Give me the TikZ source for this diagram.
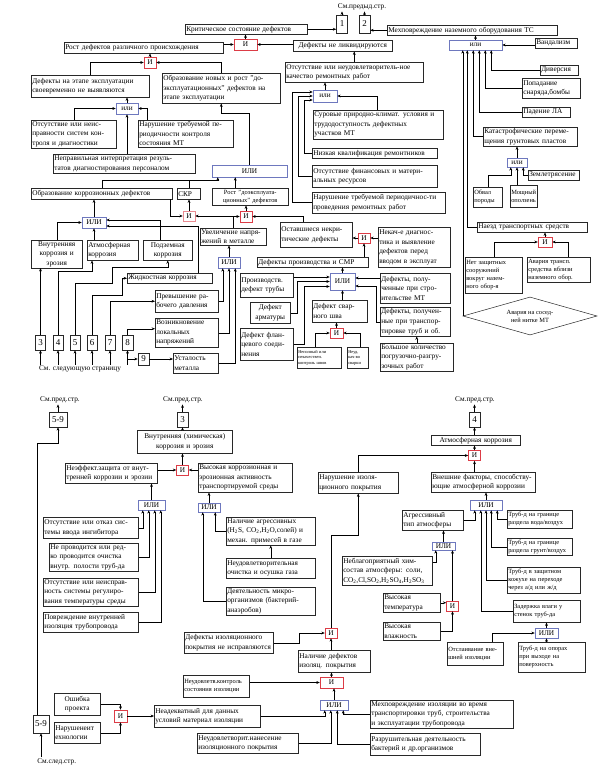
\documentclass[tikz,border=0pt]{standalone}
\usepackage{fontspec}
\setmainfont{Liberation Serif}
\usepackage{tikz}
\usetikzlibrary{arrows.meta,shapes.geometric,calc}

\newcommand{\txtmain}{\fontsize{7.3}{9.6}\selectfont}
\newcommand{\txtsmall}{\fontsize{6.4}{8}\selectfont}
\newcommand{\txttiny}{\fontsize{4.4}{5.4}\selectfont}
\definecolor{andred}{RGB}{220,60,70}
\definecolor{orblue}{RGB}{110,120,190}
\definecolor{inkgray}{RGB}{40,40,40}

\begin{document}
\begin{tikzpicture}[x=1pt, y=-1pt, line width=0.5pt, >={Stealth[length=3.4pt,width=2.8pt]},
    block/.style={rectangle, draw=inkgray, anchor=north west, align=left, inner xsep=1pt, inner ysep=1pt, text width=#1, font=\txtmain},
    andgate/.style={rectangle, draw=andred, fill=white, minimum width=12pt, minimum height=10pt, inner sep=0pt, font=\txtmain},
    orgate/.style={rectangle, draw=orblue, fill=white, minimum height=10pt, inner sep=0pt, font=\txtmain},
    numbox/.style={rectangle, draw=inkgray, inner sep=0pt, minimum width=10pt, minimum height=15pt, font=\fontsize{9}{9}\selectfont},
    note/.style={inner sep=1pt, font=\txtmain}]

\useasboundingbox[fill=white] (0,0) rectangle (604,775);

% ---------------- upper page: top events
\node[note] (prevt) at (362,7) {См.предыд.стр.};
\node[numbox, minimum width=11pt, minimum height=18pt] (n1) at (342,24) {1};
\node[numbox, minimum width=11pt, minimum height=18pt] (n2) at (364.5,24) {2};
\node[block=120pt, minimum height=10pt] (crit) at (185,24) {Критическое состояние дефектов};
\node[block=168pt, minimum height=10pt] (mech) at (387,25) {Мехповреждение наземного оборудования ТС};
\node[andgate, minimum width=23pt, minimum height=11pt] (g1) at (245.5,44.5) {И};
\node[block=157pt, minimum height=11pt] (rost) at (64,42) {Рост дефектов различного происхождения};
\node[block=97pt, minimum height=11pt, align=center] (neliq) at (293,40) {Дефекты не ликвидируются};
\draw[->] (n1.north) -- (n1.north |- prevt.south);
\draw[->] (n2.north) -- (n2.north |- prevt.south);
\draw[->] (crit.east) -- (crit.east -| n1.west);
\draw[->] (mech.west) -- (mech.west -| n2.east);
\draw[->] (g1.north) -- (g1.north |- crit.south);
\draw[->] (rost.east |- g1.west) -- (g1.west);
\draw[->] (neliq.west |- g1.east) -- (g1.east);

% defects growth branch
\node[andgate, minimum height=11pt] (g2) at (150,62.5) {И};
\node[block=116pt, minimum height=22pt] (defexp) at (31,75) {Дефекты на этапе эксплуатации\\своевременно не выявляются};
\node[block=116pt, minimum height=30pt] (obraz) at (162,73) {Образование новых и рост "до-\\эксплуатационных" дефектов на\\этапе  эксплуатации};
\node[orgate, minimum width=22pt, minimum height=11pt] (g3) at (127,108.5) {или};
\node[block=83pt, minimum height=27pt] (otsk) at (31,120) {Отсутствие или неис-\\правности систем кон-\\троля и диагностики};
\node[block=93pt, minimum height=27pt] (narper) at (138,120) {Нарушение требуемой пе-\\риодичности контроля\\состояния МТ};
\node[block=140pt, minimum height=19pt] (neprav) at (53,154) {Неправильная интерпретация резуль-\\татов диагностирования персоналом};
\draw[->] (g2.north) -- (g2.north |- rost.south);
\draw[->] (defexp.north) |- (g2.west);
\draw[->] (obraz.north) |- (g2.east);
\draw[->] (g3.north) -- (g3.north |- defexp.south);
\draw[->] (otsk.north) |- (g3.west);
\draw[->] ([xshift=9pt]narper.north west) |- (g3.east);
\draw[->] (g3.south |- neprav.north) -- (g3.south);

% corrosion and stress
\node[orgate, minimum width=75pt, minimum height=12pt] (ili1) at (249.5,171) {ИЛИ};
\node[block=139pt, minimum height=11pt] (obrk) at (31,188) {Образование коррозионных дефектов};
\node[block=21pt, minimum height=11pt] (skr) at (177,188) {СКР};
\node[block=74pt, minimum height=17pt, align=center, font=\txtsmall] (rostd) at (212,188) {Рост "доэксплуата-\\ционных" дефектов};
\node[andgate, draw=andred!60] (gand1) at (189,216) {И};
\node[andgate, minimum height=11pt] (gand2) at (246,216.5) {И};
\node[block=64pt, minimum height=17pt] (uvel) at (200,228) {Увеличение напря-\\жений в металле};
\node[block=70pt, minimum height=25pt] (ostav) at (280,222) {Оставшиеся некри-\\тические дефекты};
\draw[->] (ili1.north) |- ([yshift=-10pt]obraz.south) -- (obraz.south);
\draw[->] (obrk.north) -- ++(0,-8) -| ([xshift=6pt]ili1.south west);
\draw (skr.north) -- ++(0,-8);
\draw[->] ([xshift=-15pt]rostd.north) -- ([xshift=-15pt]rostd.north |- ili1.south);
\draw[->] ([xshift=-2pt]obrk.south east) |- (gand1.west);
\draw[->] (gand1.north) -- (gand1.north |- skr.south);
\draw[->] (gand2.north) -- (gand2.north |- rostd.south);
\draw[->] (uvel.north) |- (gand1.east);
\draw[->] (uvel.north) |- (gand2.west);
\draw[->] ([xshift=23pt]ostav.north west) |- (gand2.east);

% repair branch
\node[block=136pt, minimum height=20pt] (rep) at (285,62) {Отсутствие или неудовлетворитель-ное\\качество ремонтных работ};
\node[orgate, minimum width=24pt, minimum height=12pt] (g4) at (325,96) {или};
\node[block=128pt, minimum height=29pt] (surov) at (313,110) {Суровые природно-климат. условия и\\трудодоступность дефектных\\участков МТ};
\node[block=123pt, minimum height=10pt] (nizk) at (312,148) {Низкая квалификация ремонтников};
\node[block=123pt, minimum height=22pt] (otsf) at (312,165) {Отсутствие финансовых и матери-\\альных ресурсов};
\node[block=131pt, minimum height=21pt] (narrep) at (312,192) {Нарушение требуемой периодичнос-ти\\проведения ремонтных работ};
\draw[->] (rep.north) -- (rep.north |- neliq.south);
\draw[->] (g4.north) -- (g4.north |- rep.south);
\draw[->] ([xshift=64pt]surov.north west) |- (g4.east);
\draw[->] (nizk.west) -- ++(-8,0) |- (g4.west |- 0,100);
\draw[->] (otsf.west) -- ++(-14,0) |- (g4.west |- 0,96);
\draw[->] (narrep.west) -- ++(-20,0) |- (g4.west |- 0,92);

% ground equipment branch
\node[orgate, minimum width=53pt] (g5) at (475.5,45) {или};
\node[block=40pt, minimum height=10pt] (vand) at (535,38) {Вандализм};
\node[block=36pt, minimum height=10pt] (divers) at (540,65) {Диверсия};
\node[block=56pt, minimum height=20pt] (popad) at (522,78) {Попадание\\снаряда,бомбы};
\node[block=46pt, minimum height=10pt] (paden) at (522,107) {Падение ЛА};
\node[block=92pt, minimum height=19pt] (katas) at (483,127) {Катастрофические переме-\\щения грунтовых пластов};
\node[orgate, minimum width=20pt, minimum height=9pt] (g6) at (517,162.5) {или};
\node[block=49pt, minimum height=10pt] (zeml) at (528,170) {Землетрясение};
\node[block=27pt, minimum height=20pt, font=\txtsmall] (obval) at (473,187) {Обвал\\породы};
\node[block=25pt, minimum height=22pt, font=\txtsmall] (moshch) at (510,185) {Мощный\\оползень};
\node[block=108pt, minimum height=10pt] (naezd) at (477,222) {Наезд транспортных средств};
\node[andgate, minimum width=14pt] (g7) at (545,242) {И};
\node[block=55pt, minimum height=36pt, font=\txtsmall] (netz) at (465,257) {Нет защитных\\ сооружений\\вокруг назем-\\ного обор-я};
\node[block=61pt, minimum height=25pt, font=\txtsmall] (avtr) at (527,257) {Авария трансп.\\средства вблизи\\наземного обор.};
\node[diamond, draw=inkgray, aspect=3.5, minimum width=134pt, minimum height=38pt, inner sep=0pt, align=center, font=\txtsmall] (avar) at (530,316) {Авария на сосед-\\ней нитке МТ};
\draw[->] (g5.north) -- (g5.north |- mech.south);
\draw[->] (vand.west |- g5.east) -- (g5.east);
\draw[->] (divers.west) -| ([xshift=-11pt]g5.south east);
\draw[->] (popad.west) -| ([xshift=-17pt]g5.south east);
\draw[->] (paden.west) -| ([xshift=-23pt]g5.south east);
\draw[->] (katas.west) -| ([xshift=-29pt]g5.south east);
\draw[->] (naezd.west) -| ([xshift=-35pt]g5.south east);
\draw[->] (avar.west) -- (avar.west |- g5.south);
\draw[->] (g6.north) -- (g6.north |- katas.south);
\draw[->] (zeml.west) -| ([xshift=-4pt]g6.south east);
\draw[->] (obval.north) -- ++(0,-12) -| ([xshift=4pt]g6.south west);
\draw[->] ([xshift=7pt]moshch.north west) -- ([xshift=7pt]moshch.north west |- g6.south);
\draw[->] (g7.north) -- (g7.north |- naezd.south);
\draw[->] (netz.north) |- (g7.west);
\draw[->] ([xshift=41pt]avtr.north west) |- (g7.east);

% production defects
\node[andgate] (gand3) at (364,238) {И};
\node[block=70pt, minimum height=40pt] (nekach) at (378,227) {Некач-е  диагнос-\\тика и выявление\\дефектов перед\\вводом в эксплуат};
\node[block=109pt, minimum height=10pt] (defpr) at (257,257) {Дефекты производства  и СМР};
\node[orgate, minimum width=25pt, minimum height=17pt] (ili2) at (342.5,281.5) {ИЛИ};
\node[block=51pt, minimum height=24pt] (proizv) at (240,273) {Производств.\\дефект трубы};
\node[block=38pt, minimum height=21pt, align=center] (armat) at (250,302) {Дефект\\арматуры};
\node[block=51pt, minimum height=32pt] (flan) at (240,328) {Дефект флан-\\цевого соеди-\\нения};
\node[block=53pt, minimum height=22pt] (svar) at (312,300) {Дефект свар-\\ного шва};
\node[block=68pt, minimum height=30pt] (stroi) at (380,273) {Дефекты, полу-\\ченные при стро-\\ительстве  МТ};
\node[block=68pt, minimum height=29pt] (transp) at (380,307) {Дефекты, получен-\\ные при транспор-\\тировке труб и об.};
\node[block=71pt, minimum height=27pt] (bolsh) at (380,343) {Большое количество\\погрузочно-разгру-\\зочных работ};
\node[andgate, minimum width=13pt] (gand4) at (336.5,333) {И};
\node[block=42pt, minimum height=21pt, font=\txttiny] (nepol) at (297,347) {Неполный или\\некачествен.\\контроль швов};
\node[block=19pt, minimum height=21pt, font=\txttiny] (neud) at (347,347) {Неуд.\\кач-во\\сварки};
\draw[->] (gand3.west) -- (gand3.west -| ostav.east);
\draw[->] (nekach.west |- gand3.east) -- (gand3.east);
\draw[->] (gand3.south |- defpr.north) -- (gand3.south);
\draw[->] (ili2.north) -- (ili2.north |- defpr.south);
\draw[->] (proizv.east |- 0,277) -- (ili2.west |- 0,277);
\draw[->] (armat.east) -- ++(7,0) |- (ili2.west);
\draw[->] (flan.east) -- ++(11,0) |- (ili2.west |- 0,286.5);
\draw[->] (ili2.south |- svar.north) -- (ili2.south);
\draw[->] (stroi.west |- 0,278) -- (ili2.east |- 0,278);
\draw[->] (transp.west) -- ++(-4,0) |- (ili2.east |- 0,286);
\draw[->] (bolsh.north) -- (bolsh.north |- transp.south);
\draw[->] (gand4.north) -- (gand4.north |- svar.south);
\draw[->] ([xshift=18pt]nepol.north west) |- (gand4.west);
\draw[->] ([xshift=13pt]neud.north west) |- (gand4.east);

% corrosion kinds and next-page numbers
\node[orgate, minimum width=24pt, minimum height=11pt] (ili3) at (94,222.5) {ИЛИ};
\node[block=49pt, minimum height=27pt, align=center] (vnutr) at (31,240) {Внутренняя\\коррозия и\\эрозия};
\node[block=49pt, minimum height=20pt] (atm) at (87,240) {Атмосферная\\коррозия};
\node[block=47pt, minimum height=20pt, align=center] (podz) at (143,240) {Подземная\\коррозия};
\node[block=83pt, minimum height=10pt] (zhid) at (127,273) {Жидкостная коррозия};
\node[block=61pt, minimum height=22pt] (prev) at (155,290) {Превышение ра-\\бочего давления};
\node[block=61pt, minimum height=29pt] (voz) at (155,318) {Возникновение\\локальных\\напряжений};
\node[block=43pt, minimum height=20pt] (ust) at (173,353) {Усталость\\металла};
\node[orgate, minimum width=22pt, minimum height=11pt] (ili4) at (229,262.5) {ИЛИ};
\node[numbox] (n3) at (40.5,342.5) {3};
\node[numbox] (n4) at (58,342.5) {4};
\node[numbox] (n5) at (75,342.5) {5};
\node[numbox] (n6) at (92,342.5) {6};
\node[numbox] (n7) at (110,342.5) {7};
\node[numbox, minimum width=11pt] (n8) at (127.5,342.5) {8};
\node[numbox, minimum width=11pt, minimum height=12pt] (n9) at (143.5,359) {9};
\node[note] (nextlbl) at (80,369) {См. следующую  страницу};
\draw[->] (ili3.north) -- (ili3.north |- obrk.south);
\draw[->] (vnutr.north) |- (ili3.west);
\draw[->] (ili3.south |- atm.north) -- (ili3.south);
\draw[->] ([xshift=17pt]podz.north west) |- (ili3.east |- 0,220);
\draw[->] ([xshift=71pt]zhid.north west) |- (ili3.east |- 0,226);
\draw[->] (ili4.north) -- (ili4.north |- uvel.south);
\draw[->] (prev.east) -| ([xshift=5pt]ili4.south west);
\draw[->] (voz.east) -| (ili4.south);
\draw[->] (ust.east) -| ([xshift=-5pt]ili4.south east);
\draw[->] (n3.north) -- (n3.north |- vnutr.south);
\draw[->] (n4.north) -- ++(0,-64) -| ([xshift=5pt]atm.south west);
\draw[->] (n5.north) -- ++(0,-52) -- ++(37,0) -- ++(0,-16) -| (podz.south);
\draw[->] (n6.north) -- ++(0,-40) -| ([xshift=-5pt]zhid.west) -- (zhid.west);
\draw[->] (n7.north) |- (prev.west);
\draw[->] (n8.north) |- ([yshift=4pt]voz.west);
\draw[->] (n9.east) -- (n9.east -| ust.west);
\draw[->] (n8.south |- n9.west) -- (n9.west);
\foreach \n in {n3,n4,n5,n6,n7,n8}
    \draw[->] (\n.south |- nextlbl.north) -- (\n.south);

% ---------------- lower page: internal corrosion
\node[note] (lbl59) at (60,400) {См.пред.стр.};
\node[numbox, minimum width=18pt] (b59) at (58,419.5) {5-9};
\node[note] (lbl3) at (183,400) {См.пред.стр.};
\node[numbox, minimum width=11pt] (b3) at (182.5,419.5) {3};
\node[note] (lbl4) at (475,400) {См.пред.стр.};
\node[numbox, minimum width=11pt] (b4) at (474.5,419.5) {4};
\node[block=93pt, minimum height=23pt, align=center] (vnx) at (137,430) {Внутренняя (химическая)\\коррозия и  эрозия};
\node[andgate] (gand5) at (182.5,470) {И};
\node[block=90pt, minimum height=20pt] (neef) at (65,463) {Неэффект.защита от внут-\\тренней коррозии и эрозии};
\node[block=92pt, minimum height=29pt] (vysk) at (198,463) {Высокая коррозионная и\\эрозионная активность\\транспортируемой среды};
\node[orgate, minimum width=27pt] (ili5) at (151.5,505) {ИЛИ};
\node[block=93pt, minimum height=21pt] (otsi) at (43,517) {Отсутствие или отказ сис-\\темы ввода ингибитора};
\node[block=87pt, minimum height=25pt] (nepr) at (49,543) {Не проводится или ред-\\ко проводится очистка\\внутр. полости труб-да};
\node[block=93pt, minimum height=27pt] (otsr) at (43,578) {Отсутствие или неисправ-\\ность системы регулиро-\\вания температуры среды};
\node[block=93pt, minimum height=20pt] (povr) at (43,612) {Повреждение внутренней\\изоляция трубопровода};
\node[orgate, minimum width=22pt, minimum height=9pt] (ili6) at (209,507.5) {ИЛИ};
\node[block=87pt, minimum height=28pt] (nalag) at (226,517) {Наличие агрессивных\\(H\textsubscript{2}S, CO\textsubscript{2},H\textsubscript{2}O,солей) и\\механ. примесей в газе};
\node[block=87pt, minimum height=20pt] (neudoch) at (226,558) {Неудовлетворительная\\очистка и осушка газа};
\node[block=87pt, minimum height=26pt] (deyat) at (226,587) {Деятельность микро-\\организмов (бактерий-\\анаэробов)};
\draw[->] (b59.north) -- (b59.north |- lbl59.south);
\draw[->] (b3.north) -- (b3.north |- lbl3.south);
\draw[->] (b4.north) -- (b4.north |- lbl4.south);
\draw[->] (vnx.north -| b3.south) -- (b3.south);
\draw[->] (gand5.north) -- (gand5.north |- vnx.south);
\draw[->] (neef.east |- gand5.west) -- (gand5.west);
\draw[->] (vysk.west |- gand5.east) -- (gand5.east);
\draw[->] (ili5.north) -- (ili5.north |- neef.south);
\draw[->] (otsi.east) -| ([xshift=5pt]ili5.south west);
\draw[->] (nepr.east) -| ([xshift=11pt]ili5.south west);
\draw[->] (otsr.east) -| ([xshift=17pt]ili5.south west);
\draw[->] (povr.east) -| ([xshift=23pt]ili5.south west);
\draw[->] (ili6.north) -- (ili6.north |- vysk.south);
\draw[->] (nalag.west) -| ([xshift=-5pt]ili6.south east);
\draw[->] (deyat.west) -| ([xshift=5pt]ili6.south west);
\draw[->] (neudoch.north) -- (neudoch.north |- nalag.south);

% atmospheric corrosion
\node[block=78pt, minimum height=21pt] (narizol) at (318,472) {Нарушение изоля-\\ционного покрытия};
\node[block=87pt, minimum height=10pt, align=center] (atmk) at (431,435) {Атмосферная коррозия};
\node[andgate] (gand6) at (474.5,455.5) {И};
\node[block=102pt, minimum height=20pt] (vnesh) at (431,472) {Внешние факторы, способству-\\ющие атмосферной коррозии};
\node[orgate, minimum width=32pt] (ili7) at (486,505) {ИЛИ};
\node[block=59pt, minimum height=20pt] (agr) at (402,510) {Агрессивный\\тип атмосферы};
\node[block=63pt, minimum height=18pt, font=\txtsmall] (voda) at (507,510) {Труб-д на границе\\раздела вода/воздух};
\node[block=63pt, minimum height=17pt, font=\txtsmall] (grunt) at (507,538) {Труб-д на границе\\раздела грунт/воздух};
\node[block=71pt, minimum height=26pt, font=\txtsmall] (kozh) at (507,567) {Труб-д в защитном\\кожухе на переходе\\через а/д или ж/д};
\node[block=65pt, minimum height=22pt, font=\txtsmall] (zader) at (513,600) {Задержка влаги у\\стенок труб-да};
\node[orgate, minimum width=23pt, minimum height=8pt] (ili8) at (443.5,546) {ИЛИ};
\node[block=88pt, minimum height=29pt] (nebl) at (342,556) {Неблагоприятный хим-\\состав атмосферы: соли,\\CO\textsubscript{2},Cl,SO\textsubscript{2},H\textsubscript{2}SO\textsubscript{4},H\textsubscript{2}SO\textsubscript{3}};
\node[block=55pt, minimum height=19pt] (vyst) at (383,593) {Высокая\\температура};
\node[block=55pt, minimum height=18pt] (vysv) at (383,622) {Высокая\\влажность};
\node[andgate] (gand7) at (452.5,606) {И};
\node[orgate, minimum width=23pt] (ili9) at (546.5,633) {ИЛИ};
\node[block=54pt, minimum height=23pt, font=\txtsmall] (otsl) at (447,642) {Отслаивание вне-\\шней изоляции};
\node[block=65pt, minimum height=30pt, font=\txtsmall] (opor) at (518,642) {Труб-д на опорах\\при выходе на\\поверхность};
\draw[->] (narizol.north) |- (gand6.west);
\draw[->] (gand6.north) -- (gand6.north |- atmk.south);
\draw[->] (atmk.north -| b4.south) -- (b4.south);
\draw[->] (vnesh.north -| gand6.south) -- (gand6.south);
\draw[->] (ili7.north) -- (ili7.north |- vnesh.south);
\draw[->] (agr.east) -| ([xshift=5pt]ili7.south west);
\draw[->] (zader.west) -| ([xshift=11pt]ili7.south west);
\draw[->] (kozh.west) -| (ili7.south);
\draw[->] (grunt.west) -| ([xshift=-11pt]ili7.south east);
\draw[->] (voda.west) -| ([xshift=-5pt]ili7.south east);
\draw[->] (ili8.north) -- (ili8.north |- agr.south);
\draw[->] (nebl.east |- 0,562) -| ([xshift=4pt]ili8.south west);
\draw[->] (gand7.north) -- (gand7.north |- ili8.south);
\draw[->] (vyst.east) -- (vyst.east -| gand7.west);
\draw[->] (vysv.east) -| (gand7.south);
\draw[->] (ili9.north) -- (ili9.north |- zader.south);
\draw[->] ([xshift=45pt]otsl.north west) |- (ili9.west);
\draw[->] (opor.north -| ili9.south) -- (ili9.south);

% insulation defects
\node[andgate] (gand8) at (331,633) {И};
\node[block=87pt, minimum height=21pt] (defiz) at (184,632) {Дефекты изоляционного\\покрытия не исправляются};
\node[block=70pt, minimum height=22pt] (nalde) at (298,650) {Наличие дефектов\\изоляц. покрытия};
\node[andgate, minimum width=23pt, minimum height=11pt] (gand9) at (331.5,682.5) {И};
\node[block=64pt, minimum height=22pt, font=\txtsmall] (neudk) at (183,675) {Неудовлетв.контроль\\состояния изоляции};
\node[orgate, minimum width=28pt] (ili10) at (334,705) {ИЛИ};
\node[block=104pt, minimum height=22pt] (neadek) at (154,705) {Неадекватный для данных\\условий материал изоляции};
\node[block=99pt, minimum height=20pt] (neudn) at (197,733) {Неудовлетворит.нанесение\\изоляционного покрытия};
\node[block=141pt, minimum height=28pt] (mechiz) at (370,700) {Мехповреждение изоляции во время\\транспортировки труб, строительства\\и эксплуатации трубопровода};
\node[block=108pt, minimum height=22pt] (razr) at (370,733) {Разрушительная деятельность\\бактерий и др.организмов};
\node[block=44pt, minimum height=22pt, align=center] (osh) at (54,693) {Ошибка\\проекта};
\node[block=44pt, minimum height=21pt] (narush) at (54,722) {Нарушенеит\\ехнологии};
\node[andgate, minimum width=13pt, minimum height=12pt] (gand10) at (120.5,716) {И};
\node[numbox, minimum width=16pt, minimum height=18pt] (b59b) at (41,724) {5-9};
\node[note, anchor=north west] (lblnext) at (36,757) {См.след.стр.};
\draw[->] (gand8.north) |- (narizol.south |- 0,535) -- (narizol.south);
\draw[->] (defiz.east) -- ++(26,0) |- (gand8.west);
\draw[->] (gand8.south |- nalde.north) -- (gand8.south);
\draw[->] (gand9.north) -- (gand9.north |- nalde.south);
\draw[->] (neudk.east |- gand9.west) -- (gand9.west);
\draw[->] (ili10.north) -- (ili10.north |- gand9.south);
\draw[->] (neadek.east) -| ([xshift=5pt]ili10.south west);
\draw[->] (neudn.east) -| ([xshift=11pt]ili10.south west);
\draw[->] (mechiz.west) -| ([xshift=-5pt]ili10.south east);
\draw[->] (razr.west) -| ([xshift=-11pt]ili10.south east);
\draw[->] (gand10.east) -- (gand10.east -| neadek.west);
\draw[->] (osh.east) -| (gand10.north);
\draw[->] (narush.east) -| (gand10.south);
\draw[->] (lblnext.north -| b59b.south) -- (b59b.south);
\draw[->] ([xshift=-4pt]b59b.north) |- ([yshift=-16pt]b59.south) -- (b59.south);
\end{tikzpicture}
\end{document}
